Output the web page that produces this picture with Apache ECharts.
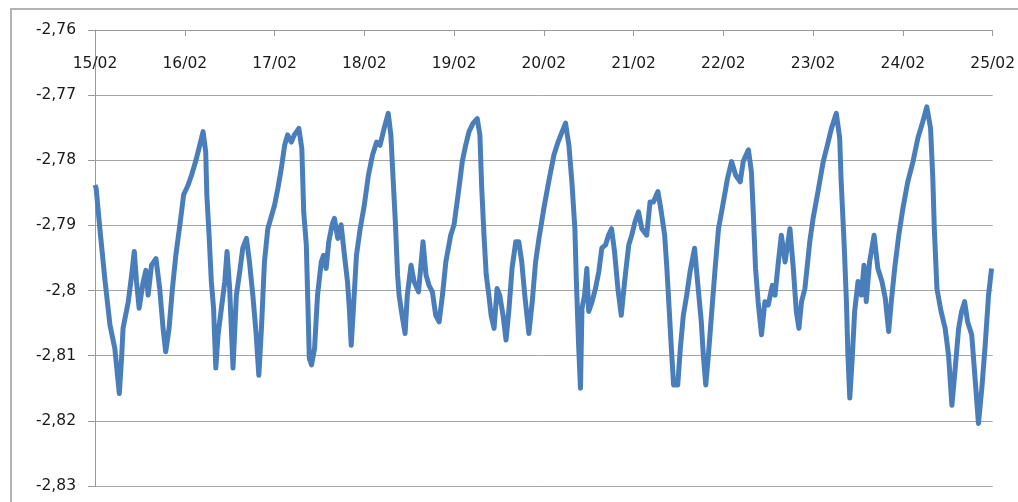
<!DOCTYPE html>
<html>
<head>
<meta charset="utf-8">
<script src="https://cdn.jsdelivr.net/npm/echarts@6/dist/echarts.min.js"></script>
<style>
  html, body { margin: 0; padding: 0; background: #fff; }
  #main { width: 1018px; height: 502px; }
</style>
</head>
<body>
<div id="main"></div>
<script>
// hours since 15/02 00:00
let hours = [
  0, 0.3, 1.3, 2.7, 4.0, 5.3, 6.5, 7.1, 7.5, 8.9, 9.8, 10.5, 11.1, 11.8, 12.9, 13.6, 14.2, 15.1, 16.3, 17.3,
  18.2, 18.9, 19.8, 20.7, 21.6, 22.7, 23.7, 24.9, 25.8, 26.9, 28.0, 28.9, 29.6, 29.9, 30.5, 31.1, 31.7, 32.3,
  32.9, 33.8, 34.7, 35.3, 36.0, 36.9, 37.8, 38.7, 39.5, 40.5, 41.3, 42.2, 43.1, 43.8, 44.5, 45.3, 46.2,
  48.0, 48.9, 49.8, 50.7, 51.5, 52.5, 53.3, 54.5, 55.3, 55.8, 56.5, 56.9, 57.3, 57.9, 58.7, 59.5, 60.5, 61.1,
  61.8, 62.5, 63.4, 64.0, 64.9, 65.8, 66.7, 67.5, 68.0, 68.5, 69.1, 69.9, 70.9, 72.0, 73.1, 74.2, 75.3, 76.2,
  77.3, 78.4, 79.1, 79.7, 80.3, 80.9, 81.3, 82.1, 82.9, 83.5, 84.5, 85.3, 86.5, 87.7, 88.5, 89.3, 90.2, 91.1,
  92.0, 92.9, 93.8, 95.1,
  96.0, 97.3, 98.2, 99.1, 100.0, 101.1, 102.2, 102.9, 103.4, 104.0, 104.6, 105.3, 105.9, 106.7, 107.5, 108.2,
  109.1, 109.9, 110.7, 111.5, 112.5, 113.3, 114.1, 114.9, 116.0, 116.9, 117.8, 118.7, 120.0, 121.3, 122.7,
  123.8, 124.9, 125.8, 126.7, 127.5, 128.3, 128.7, 129.3, 129.8, 130.2, 130.9, 131.5, 132.0, 132.9, 133.8,
  134.7, 135.5, 136.5, 137.3, 138.1, 138.9, 139.8, 140.7, 141.6, 142.7,
  143.5, 144.4, 145.3, 146.2, 147.5, 148.4, 149.3, 150.5, 151.4, 152.3, 152.9, 153.5, 154.1, 154.7, 155.8,
  156.5, 157.3, 158.2, 159.1, 160.3, 161.1, 162.1, 162.7, 163.3, 164.0, 164.9, 165.8, 166.7, 168.0, 169.1,
  170.2, 171.3, 172.5, 173.3, 174.7, 175.5, 176.1, 176.6, 177.3, 178.2, 179.1, 180.0, 181.1, 181.8, 182.7,
  183.5, 184.5, 185.8, 186.7, 187.5, 188.2, 188.9, 189.8, 191.1,
  192.0, 193.3, 194.7, 195.8, 196.9, 198.2, 199.1, 199.5, 200.3, 200.9, 201.3, 201.8, 202.4, 203.1, 204.0,
  204.9, 205.6, 206.2, 207.1, 208.3, 209.3, 210.4, 211.3, 212.2, 212.9, 213.8, 214.9, 216.0, 217.3, 218.7,
  220.0, 221.3, 222.4, 223.4, 224.0, 224.4, 225.1, 226.2, 227.3, 228.2, 229.1, 229.9, 230.9, 231.7, 232.5,
  233.3, 234.4, 235.3, 236.2, 237.1, 238.0, 238.9, 239.7
];
let values = [
  -2.7838, -2.7843, -2.7905, -2.7986, -2.8053, -2.8089, -2.8158, -2.8104, -2.8058, -2.8017, -2.7976, -2.7940, -2.7986, -2.8027, -2.7986, -2.7969, -2.8007, -2.7961, -2.7951, -2.7997,
  -2.8058, -2.8094, -2.8058, -2.7997, -2.7946, -2.7899, -2.7853, -2.7838, -2.7823, -2.7802, -2.7777, -2.7756, -2.7787, -2.7853, -2.7915, -2.7986, -2.8027, -2.8119,
  -2.8068, -2.8027, -2.7986, -2.7940, -2.7997, -2.8119, -2.8007, -2.7971, -2.7935, -2.7920, -2.7956, -2.8007, -2.8068, -2.8130, -2.8058, -2.7956, -2.7905,
  -2.7869, -2.7843, -2.7813, -2.7777, -2.7761, -2.7772, -2.7761, -2.7751, -2.7782, -2.7879, -2.7930, -2.8017, -2.8104, -2.8114, -2.8089, -2.8007, -2.7956, -2.7946,
  -2.7966, -2.7925, -2.7899, -2.7889, -2.7920, -2.7899, -2.7946, -2.7986, -2.8027, -2.8084, -2.8027, -2.7946, -2.7905, -2.7869, -2.7823, -2.7792, -2.7772, -2.7777,
  -2.7751, -2.7728, -2.7761, -2.7828, -2.7894, -2.7976, -2.8007, -2.8038, -2.8066, -2.8007, -2.7961, -2.7986, -2.8002, -2.7925, -2.7976, -2.7992, -2.8002, -2.8038,
  -2.8048, -2.8007, -2.7956, -2.7915,
  -2.7899, -2.7843, -2.7802, -2.7777, -2.7756, -2.7743, -2.7736, -2.7761, -2.7843, -2.7915, -2.7976, -2.8007, -2.8038, -2.8058, -2.7997, -2.8007,
  -2.8038, -2.8076, -2.8027, -2.7966, -2.7925, -2.7925, -2.7956, -2.8007, -2.8066, -2.8017, -2.7956, -2.7920, -2.7874, -2.7833, -2.7792,
  -2.7772, -2.7756, -2.7743, -2.7777, -2.7833, -2.7905, -2.7986, -2.8084, -2.8150, -2.8027, -2.8007, -2.7966, -2.8032, -2.8017, -2.7997,
  -2.7971, -2.7935, -2.7930, -2.7915, -2.7905, -2.7940, -2.7997, -2.8038, -2.7986, -2.7930,
  -2.7915, -2.7894, -2.7879, -2.7905, -2.7915, -2.7864, -2.7864, -2.7848, -2.7879, -2.7915, -2.7966, -2.8027, -2.8089, -2.8145, -2.8145,
  -2.8089, -2.8038, -2.8007, -2.7971, -2.7935, -2.7986, -2.8048, -2.8104, -2.8145, -2.8099, -2.8032, -2.7966, -2.7905, -2.7864, -2.7828,
  -2.7802, -2.7823, -2.7833, -2.7802, -2.7784, -2.7818, -2.7894, -2.7966, -2.8017, -2.8068, -2.8017, -2.8022, -2.7992, -2.8007, -2.7956,
  -2.7915, -2.7956, -2.7905, -2.7966, -2.8032, -2.8058, -2.8017, -2.7997, -2.7925,
  -2.7889, -2.7848, -2.7802, -2.7777, -2.7751, -2.7728, -2.7766, -2.7833, -2.7930, -2.8017, -2.8099, -2.8165, -2.8109, -2.8032, -2.7986,
  -2.8007, -2.7961, -2.8017, -2.7956, -2.7915, -2.7966, -2.7986, -2.8012, -2.8063, -2.8017, -2.7966, -2.7915, -2.7874, -2.7833, -2.7802,
  -2.7766, -2.7741, -2.7718, -2.7751, -2.7828, -2.7905, -2.7997, -2.8032, -2.8058, -2.8099, -2.8176, -2.8125, -2.8058, -2.8032, -2.8017,
  -2.8048, -2.8068, -2.8135, -2.8204, -2.8150, -2.8084, -2.8007, -2.7966
];

let myChart = echarts.init(document.getElementById('main'));
let font = 'DejaVu Sans';

myChart.setOption({
    animation: false,
    backgroundColor: '#fff',
    // cadre du graphique
    graphic: [{
        type: 'rect',
        shape: { x: 11, y: 9, width: 1020, height: 500 },
        style: { fill: 'none', stroke: '#b3b3b3', lineWidth: 2 },
        silent: true
    }],
    grid: { left: 95, right: 23, top: 30, bottom: 16 },
    xAxis: {
        type: 'value',
        position: 'top',
        min: 0,
        max: 240,
        interval: 24,
        axisLine: { show: true, onZero: false, lineStyle: { color: '#9a9a9a', width: 1 } },
        axisTick: { show: true, inside: true, length: 6, lineStyle: { color: '#9a9a9a' } },
        axisLabel: {
            inside: true,
            margin: 26,
            fontFamily: font,
            fontSize: 15.5,
            color: '#1a1a1a',
            showMinLabel: true,
            showMaxLabel: true,
            formatter: function (v) {
                let d = 15 + Math.round(v / 24);
                return (d < 10 ? '0' + d : d) + '/02';
            }
        },
        splitLine: { show: false }
    },
    yAxis: {
        type: 'value',
        min: -2.83,
        max: -2.76,
        interval: 0.01,
        axisLine: { show: true, lineStyle: { color: '#9a9a9a', width: 1 } },
        axisTick: { show: true, length: 7, lineStyle: { color: '#9a9a9a' } },
        axisLabel: {
            margin: 19,
            fontFamily: font,
            fontSize: 15.5,
            color: '#1a1a1a',
            formatter: function (v) {
                return String(+v.toFixed(2)).replace('.', ',');
            }
        },
        splitLine: { show: true, lineStyle: { color: '#a6a6a6', width: 1 } }
    },
    series: [{
        type: 'line',
        data: hours.map((h, i) => [h, values[i]]),
        showSymbol: false,
        lineStyle: { color: '#4a7ebb', width: 5, join: 'round' },
        itemStyle: { color: '#4a7ebb' }
    }]
});
</script>
</body>
</html>
